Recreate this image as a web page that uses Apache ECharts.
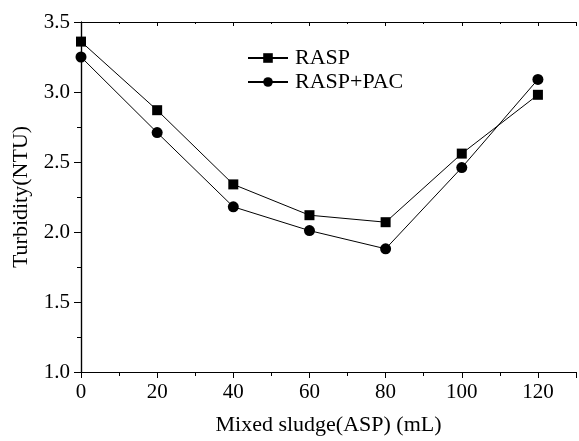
<!DOCTYPE html>
<html>
<head>
<meta charset="utf-8">
<script src="https://cdn.jsdelivr.net/npm/echarts@6/dist/echarts.min.js"></script>
<style>
  html, body { margin: 0; padding: 0; background: #fff; }
  #chart { width: 579px; height: 441px; }
</style>
</head>
<body>
<div id="chart"></div>
<script>
const categories = [0, 20, 40, 60, 80, 100, 120]
const rasp = [3.36, 2.87, 2.34, 2.12, 2.07, 2.56, 2.98]
const raspPac = [3.25, 2.71, 2.18, 2.01, 1.88, 2.46, 3.09]

const font = 'Liberation Serif, Times New Roman, serif'
const black = '#000'

function pairs(ys) {
  return categories.map((x, i) => [x, ys[i]])
}

let myChart = echarts.init(document.getElementById('chart'))
myChart.setOption({
  backgroundColor: '#fff',
  animation: false,
  grid: { left: 81, right: 1, top: 22, bottom: 65 },
  legend: {
    orient: 'vertical',
    left: 242,
    top: 42,
    itemWidth: 40,
    itemHeight: 12,
    itemGap: 2,
    selectedMode: false,
    textStyle: { fontFamily: font, fontSize: 22, color: black, padding: [0, 0, 0, 2] },
    data: ['RASP', 'RASP+PAC']
  },
  xAxis: [
    {
      type: 'value', min: 0, max: 130, interval: 20,
      name: 'Mixed sludge(ASP) (mL)', nameLocation: 'middle', nameGap: 42,
      nameTextStyle: { fontFamily: font, fontSize: 22, color: black },
      axisLine: { lineStyle: { color: black, width: 1.2 } },
      axisTick: { length: 6, lineStyle: { color: black } },
      minorTick: { show: true, splitNumber: 2, length: 4, lineStyle: { color: black } },
      axisLabel: { fontFamily: font, fontSize: 21, color: black, margin: 10,
        formatter: v => (v > 120 ? '' : v) },
      splitLine: { show: false }
    },
    {
      type: 'value', min: 0, max: 130, interval: 20, position: 'top',
      axisLine: { lineStyle: { color: black, width: 1.2 } },
      axisTick: { inside: true, length: 4, lineStyle: { color: black } },
      minorTick: { show: true, splitNumber: 2, length: 2, lineStyle: { color: black } },
      axisLabel: { show: false },
      splitLine: { show: false }
    }
  ],
  yAxis: [
    {
      type: 'value', min: 1.0, max: 3.5, interval: 0.5,
      name: 'Turbidity(NTU)', nameLocation: 'middle', nameGap: 49,
      nameTextStyle: { fontFamily: font, fontSize: 22, color: black },
      axisLine: { show: true, lineStyle: { color: black, width: 1.2 } },
      axisTick: { show: true, length: 7, lineStyle: { color: black } },
      minorTick: { show: true, splitNumber: 2, length: 4, lineStyle: { color: black } },
      axisLabel: { fontFamily: font, fontSize: 21, color: black, margin: 11,
        formatter: v => v.toFixed(1) },
      splitLine: { show: false }
    },
    {
      type: 'value', min: 1.0, max: 3.5, interval: 0.5, position: 'right',
      axisLine: { show: true, lineStyle: { color: black, width: 1.2 } },
      axisTick: { show: true, inside: true, length: 4, lineStyle: { color: black } },
      minorTick: { show: true, splitNumber: 2, length: 2, lineStyle: { color: black } },
      axisLabel: { show: false },
      splitLine: { show: false }
    }
  ],
  series: [
    {
      name: 'RASP', type: 'line', data: pairs(rasp),
      symbol: 'rect', symbolSize: 10,
      itemStyle: { color: black },
      lineStyle: { color: black, width: 1 }
    },
    {
      name: 'RASP+PAC', type: 'line', data: pairs(raspPac),
      symbol: 'circle', symbolSize: 11,
      itemStyle: { color: black },
      lineStyle: { color: black, width: 1 }
    }
  ]
})
</script>
</body>
</html>
